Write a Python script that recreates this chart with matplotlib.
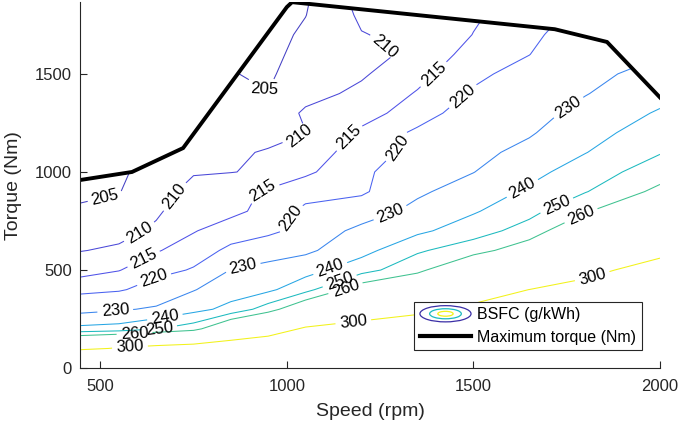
import numpy as np
import matplotlib
matplotlib.use("Agg")
import matplotlib.pyplot as plt
from matplotlib.patches import Polygon, Ellipse
from matplotlib.lines import Line2D
from matplotlib.legend_handler import HandlerBase

plt.rcParams['font.family'] = ['Liberation Sans', 'DejaVu Sans']

# engine map: BSFC (g/kWh) on a speed x torque grid
speed = [446, 550, 650, 750, 850, 950, 1050, 1200, 1350, 1500, 1650, 1800, 2000]
torque = [0, 100, 200, 300, 400, 500, 600, 700, 800, 900,
          1000, 1100, 1200, 1300, 1400, 1500, 1600, 1700, 1800, 1900]
bsfc = np.array([
    [400.0, 390.0, 380.0, 370.0, 360.0, 350.0, 340.0, 330.0, 320.0, 315.0, 315.0, 320.0, 330.0],
    [293.2, 302.6, 308.6, 312.6, 317.1, 319.7, 321.4, 318.4, 313.1, 310.9, 307.5, 315.8, 324.8],
    [242.6, 243.9, 249.5, 255.6, 276.0, 288.3, 302.8, 306.7, 306.2, 306.8, 305.0, 311.7, 319.6],
    [226.8, 228.9, 231.3, 236.9, 242.9, 255.0, 271.7, 290.2, 297.7, 302.7, 302.5, 307.5, 314.4],
    [218.0, 219.2, 223.1, 229.5, 235.4, 238.0, 246.7, 267.0, 274.9, 293.3, 300.1, 303.3, 309.2],
    [213.3, 214.8, 218.0, 220.5, 230.3, 231.0, 236.3, 246.2, 257.2, 274.3, 283.8, 297.4, 304.0],
    [209.8, 210.8, 214.6, 217.3, 221.2, 228.6, 228.2, 236.5, 248.6, 255.8, 266.8, 284.5, 297.4],
    [207.7, 208.4, 210.8, 214.7, 217.4, 217.2, 224.2, 232.4, 237.9, 245.5, 254.3, 271.6, 285.9],
    [205.7, 206.4, 209.3, 213.0, 213.8, 216.5, 221.4, 225.3, 232.6, 239.0, 247.0, 258.9, 274.3],
    [204.0, 204.8, 208.4, 211.3, 212.8, 215.8, 217.7, 218.6, 228.5, 234.3, 241.6, 249.5, 262.7],
    [203.0, 204.0, 207.5, 209.7, 209.9, 210.5, 214.2, 218.3, 225.5, 229.8, 237.0, 244.8, 255.3],
    [203.0, 204.0, 207.0, 208.6, 208.9, 210.6, 213.3, 216.5, 222.4, 227.5, 232.6, 239.7, 249.4],
    [203.0, 204.0, 207.0, 207.5, 207.8, 207.7, 209.9, 216.0, 221.0, 225.2, 229.1, 236.2, 245.3],
    [203.0, 204.0, 207.0, 207.0, 206.8, 206.4, 210.8, 212.9, 217.5, 223.0, 226.8, 232.8, 241.1],
    [203.0, 204.0, 207.0, 207.0, 205.7, 205.1, 208.3, 211.1, 215.4, 220.7, 224.5, 229.6, 236.5],
    [203.0, 204.0, 207.0, 207.0, 205.2, 204.3, 207.5, 209.4, 213.4, 218.7, 222.3, 227.7, 233.0],
    [203.0, 204.0, 207.0, 207.0, 205.2, 203.7, 206.6, 208.0, 211.4, 216.9, 219.9, 225.7, 229.5],
    [203.0, 204.0, 207.0, 207.0, 205.2, 203.3, 205.8, 209.8, 211.2, 215.1, 218.6, 223.8, 226.0],
    [203.0, 204.0, 207.0, 207.0, 205.2, 203.2, 204.9, 210.8, 213.5, 214.4, 217.4, 221.8, 222.5],
    [203.0, 204.0, 207.0, 207.0, 205.2, 203.2, 204.3, 212.0, 215.0, 214.0, 216.2, 219.9, 219.0],
])
levels = [205, 210, 215, 220, 230, 240, 250, 260, 300]
level_colors = ['#4440c4', '#4a48d8', '#4f52e8', '#4a62f0', '#3a86ee',
                '#27a6e4', '#1cbabf', '#3fc290', '#f2f21a']

max_speed = [446, 585, 722, 1000, 1014, 1718, 1858, 2000]
max_torque = [959, 1000, 1122, 1841, 1866, 1728, 1663, 1380]

# where the inline labels sit
label_spots = {
    205: [(513, 872), (935, 1410)],
    210: [(639, 954), (612, 668), (1030, 1199), (1258, 1633)],
    215: [(620, 541), (942, 857), (1161, 1184), (1402, 1480)],
    220: [(647, 439), (1054, 714), (1317, 1102), (1464, 1403)],
    230: [(540, 296), (883, 510), (1282, 765), (1754, 1331)],
    240: [(666, 342), (1110, 541), (1638, 893)],
    250: [(660, 153), (1137, 469), (1724, 826)],
    260: [(593, 133), (1156, 413), (1794, 755)],
    300: [(580, 92), (1177, 255), (1812, 510)],
}


class ContourIcon(HandlerBase):
    def create_artists(self, legend, orig, xd, yd, w, h, fontsize, trans):
        cx, cy = xd + w / 2, yd + h / 2
        out = []
        for f, c in [(1.0, '#3a2ea6'), (0.62, '#1cbabf'), (0.3, '#f2f21a')]:
            out.append(Ellipse((cx, cy), w * f, h * 1.45 * f, fill=False,
                               edgecolor=c, lw=0.9, transform=trans))
        return out


fig = plt.figure(figsize=(6.79, 4.32), dpi=100)
ax = fig.add_axes([0.118, 0.148, 0.854, 0.847])
ax.set_xlim(446, 2000)
ax.set_ylim(0, max(max_torque))

cs = ax.contour(speed, torque, bsfc, levels=levels, colors=level_colors, linewidths=0.75)
area = Polygon([(max_speed[0], 0)] + list(zip(max_speed, max_torque)) + [(max_speed[-1], 0)],
               closed=True, transform=ax.transData)
cs.set_clip_path(area)

# set up label props for all levels, then place each level's labels by hand
cs.clabel(levels=levels, manual=[], inline=True, fontsize=12, fmt='%d', colors='k')
for lev, spots in label_spots.items():
    cs.labelIndiceList = [levels.index(lev)]
    for x, y in spots:
        cs.add_label_near(x, y, inline=True, inline_spacing=4)

ax.plot(max_speed, max_torque, color='k', lw=2.8, solid_joinstyle='miter')

ax.set_xticks([500, 1000, 1500, 2000])
ax.set_yticks([0, 500, 1000, 1500])
for s in ['top', 'right']:
    ax.spines[s].set_visible(False)
for s in ['left', 'bottom']:
    ax.spines[s].set_color('#262626')
    ax.spines[s].set_linewidth(0.8)
ax.tick_params(direction='in', length=5, width=0.8, colors='#262626', labelsize=12)
ax.tick_params(axis='x', pad=8)
ax.tick_params(axis='y', pad=6)
ax.set_xlabel('Speed (rpm)', fontsize=14, color='#262626', labelpad=6)
ax.set_ylabel('Torque (Nm)', fontsize=14, color='#262626', labelpad=9)

proxy = Line2D([], [])
leg = ax.legend([proxy, Line2D([], [], color='k', lw=3)],
                ['BSFC (g/kWh)', 'Maximum torque (Nm)'],
                handler_map={proxy: ContourIcon()},
                loc='lower right', bbox_to_anchor=(0.969, 0.049), borderaxespad=0,
                fontsize=11.5, fancybox=False, framealpha=1, edgecolor='#262626',
                handlelength=3.2, handletextpad=0.4, borderpad=0.35, labelspacing=0.45)
leg.get_frame().set_linewidth(0.8)

fig.savefig('out.png', dpi=100)
